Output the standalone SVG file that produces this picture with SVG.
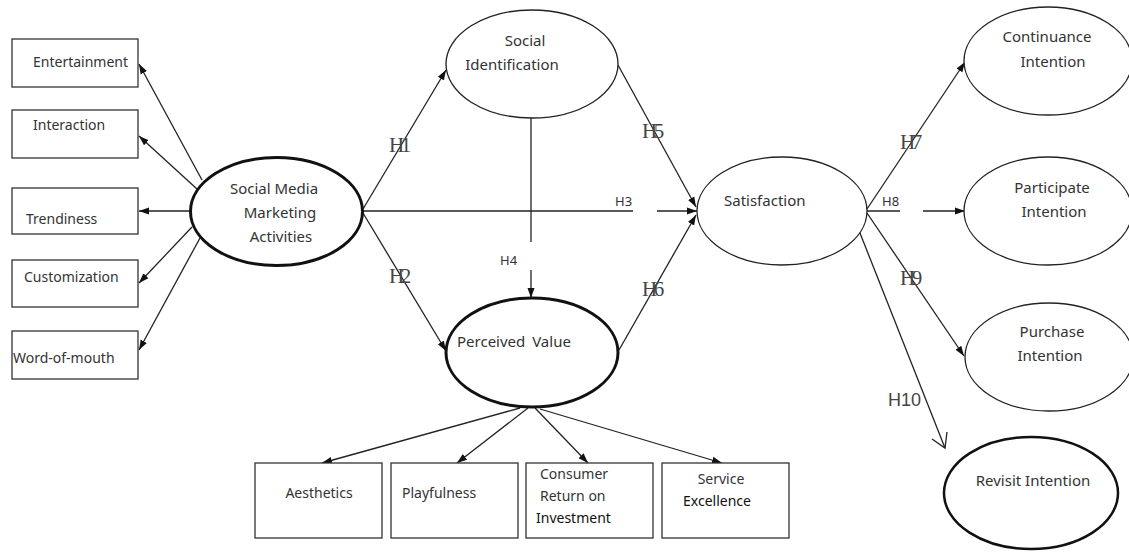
<svg xmlns="http://www.w3.org/2000/svg" width="1129" height="553" viewBox="0 0 1129 553">
<defs>
<marker id="arr" markerUnits="userSpaceOnUse" markerWidth="11" markerHeight="8" refX="10" refY="4" orient="auto">
<path d="M0,0.5 L10,4 L0,7.5 z" fill="#111"/>
</marker>
<style>
.box{fill:#fff;stroke:#333;stroke-width:1.3}
.ell{fill:#fff;stroke:#222;stroke-width:1.3}
.thick{fill:#fff;stroke:#111;stroke-width:3}
.t{font-family:"Noto Sans","DejaVu Sans",sans-serif;font-size:14px;fill:#333}
.tl{font-family:"Noto Sans","DejaVu Sans",sans-serif;font-size:15px;fill:#333}
.hs{font-family:"Liberation Serif","Times New Roman",serif;font-size:21px;fill:#444;letter-spacing:-3.5px}
.hn{font-family:"Noto Sans","DejaVu Sans",sans-serif;font-size:13px;fill:#333}
.c{stroke:#222;stroke-width:1.3;fill:none}
.ca{stroke:#222;stroke-width:1.3;fill:none;marker-end:url(#arr)}
</style>
</defs>
<rect width="1129" height="553" fill="#fff"/>

<g id="connectors">
<line class="ca" x1="202" y1="180" x2="139" y2="64"/>
<line class="ca" x1="197" y1="189" x2="139" y2="136"/>
<line class="ca" x1="190" y1="211" x2="139" y2="211"/>
<line class="ca" x1="192" y1="227" x2="139" y2="283"/>
<line class="ca" x1="200" y1="238" x2="139" y2="350"/>
<line class="ca" x1="363" y1="209" x2="446" y2="70"/>
<line class="ca" x1="363" y1="213" x2="446" y2="351"/>
<line class="c" x1="363" y1="211" x2="633" y2="211"/>
<line class="ca" x1="657" y1="211" x2="697" y2="211"/>
<line class="c" x1="531" y1="118" x2="531" y2="242"/>
<line class="ca" x1="531" y1="270" x2="531" y2="298"/>
<line class="ca" x1="618" y1="65" x2="696" y2="207"/>
<line class="ca" x1="619" y1="350" x2="696" y2="215"/>
<line class="ca" x1="867" y1="209" x2="965" y2="62"/>
<line class="c" x1="867" y1="211" x2="900" y2="211"/>
<line class="ca" x1="923" y1="211" x2="965" y2="211"/>
<line class="ca" x1="867" y1="213" x2="964" y2="356"/>
<line class="c" x1="858" y1="228" x2="945" y2="448"/>
<path class="c" d="M932,439 L945,448 L947,432"/>
<line class="ca" x1="520" y1="408" x2="322" y2="463"/>
<line class="ca" x1="528" y1="408" x2="457" y2="463"/>
<line class="ca" x1="535" y1="408" x2="588" y2="463"/>
<line class="ca" x1="540" y1="409" x2="722" y2="463"/>
<text class="hs" x="389" y="152">H1</text>
<text class="hs" x="389" y="283">H2</text>
<text class="hn" x="615" y="206">H3</text>
<text class="hn" x="500" y="265">H4</text>
<text class="hs" x="642" y="138">H5</text>
<text class="hs" x="642" y="296">H6</text>
<text class="hs" x="900" y="149">H7</text>
<text class="hn" x="882" y="206">H8</text>
<text class="hs" x="900" y="285">H9</text>
<text x="888" y="406" font-family="Liberation Sans, Arial, sans-serif" font-size="18" fill="#444">H10</text>
</g>

<g id="entertainment"><rect class="box" x="12" y="39" width="126" height="48"/><text class="t" x="33" y="67">Entertainment</text></g>
<g id="interaction"><rect class="box" x="12" y="110" width="126" height="48"/><text class="t" x="33" y="130">Interaction</text></g>
<g id="trendiness"><rect class="box" x="12" y="188" width="126" height="46"/><text class="t" x="26" y="224" fill="#111">Trendiness</text></g>
<g id="customization"><rect class="box" x="12" y="260" width="126" height="47"/><text class="t" x="24" y="282">Customization</text></g>
<g id="word-of-mouth"><rect class="box" x="12" y="331" width="126" height="48"/><text class="t" x="13" y="363">Word-of-mouth</text></g>

<g id="smma"><ellipse class="thick" cx="276.5" cy="211.5" rx="86" ry="54"/>
<text class="tl" text-anchor="middle"><tspan x="274" y="194">Social Media</tspan><tspan x="280" y="218">Marketing</tspan><tspan x="281" y="242">Activities</tspan></text></g>

<g id="social-identification"><ellipse class="ell" cx="532" cy="64" rx="86" ry="54"/>
<text class="tl" text-anchor="middle"><tspan x="525" y="46">Social</tspan><tspan x="512" y="70">Identification</tspan></text></g>

<g id="perceived-value"><ellipse class="thick" cx="532" cy="352.5" rx="86" ry="54.5"/>
<text class="tl" x="457" y="347" word-spacing="3">Perceived Value</text></g>

<g id="satisfaction"><ellipse class="ell" cx="782" cy="211" rx="85" ry="54"/>
<text class="tl" x="724" y="206">Satisfaction</text></g>

<g id="continuance-intention"><ellipse class="ell" cx="1048" cy="61" rx="84" ry="54"/>
<text class="tl" text-anchor="middle"><tspan x="1047" y="42">Continuance</tspan><tspan x="1053" y="67">Intention</tspan></text></g>

<g id="participate-intention"><ellipse class="ell" cx="1048" cy="211" rx="84" ry="54"/>
<text class="tl" text-anchor="middle"><tspan x="1052" y="193">Participate</tspan><tspan x="1054" y="217">Intention</tspan></text></g>

<g id="purchase-intention"><ellipse class="ell" cx="1049" cy="357" rx="84" ry="54"/>
<text class="tl" text-anchor="middle"><tspan x="1052" y="337">Purchase</tspan><tspan x="1050" y="361">Intention</tspan></text></g>

<g id="revisit-intention"><ellipse cx="1031" cy="493" rx="87" ry="56" fill="#fff" stroke="#111" stroke-width="2.5"/>
<text class="tl" x="1033" y="486" text-anchor="middle" fill="#111">Revisit Intention</text></g>

<g id="aesthetics"><rect class="box" x="255" y="463" width="127" height="75"/><text class="t" x="319" y="498" text-anchor="middle">Aesthetics</text></g>
<g id="playfulness"><rect class="box" x="391" y="463" width="127" height="75"/><text class="t" x="402" y="498">Playfulness</text></g>
<g id="consumer-roi"><rect class="box" x="526" y="463" width="127" height="75"/>
<text class="t" font-size="13.5"><tspan x="540" y="479">Consumer</tspan><tspan x="540" y="501">Return on</tspan><tspan x="536" y="523" fill="#111">Investment</tspan></text></g>
<g id="service-excellence"><rect class="box" x="662" y="463" width="127" height="75"/>
<text class="t" font-size="13.5"><tspan x="721" y="484" text-anchor="middle">Service</tspan><tspan x="683" y="506" fill="#111">Excellence</tspan></text></g>
</svg>
